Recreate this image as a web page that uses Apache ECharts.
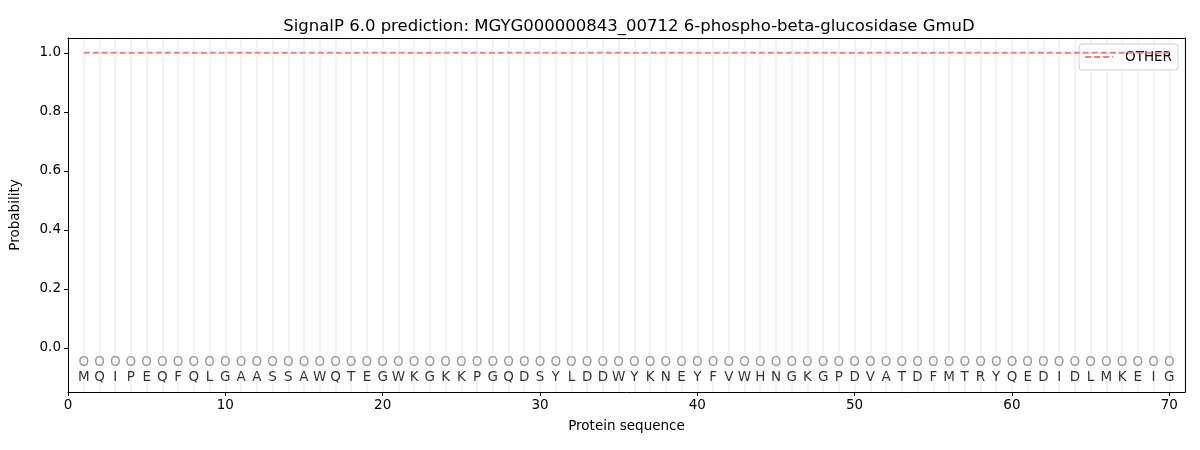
<!DOCTYPE html>
<html>
<head>
<meta charset="utf-8">
<script src="https://cdn.jsdelivr.net/npm/echarts@6/dist/echarts.min.js"></script>
<style>
  html, body { margin: 0; padding: 0; background: #fff; }
  #chart { width: 1200px; height: 450px; }
</style>
</head>
<body>
<div id="chart"></div>
<script>
// sequence and per-residue prediction
const residues = 'MQIPEQFQLGAASSAWQTEGWKGKKPGQDSYLDDWYKNEYFVWHNGKGPDVATDFMTRYQEDIDLMKEIG'.split('');
const predicted = residues.map(() => 'O');
const otherProb = [
  1, 1, 1, 1, 1, 1, 1, 1, 1, 1, 1, 1, 1, 1, 1, 1, 1, 1, 1, 1,
  1, 1, 1, 1, 1, 1, 1, 1, 1, 1, 1, 1, 1, 1, 1, 1, 1, 1, 1, 1,
  1, 1, 1, 1, 1, 1, 1, 1, 1, 1, 1, 1, 1, 1, 1, 1, 1, 1, 1, 1,
  1, 1, 1, 1, 1, 1, 1, 1, 1, 1
];
const yTicks = [0, 0.2, 0.4, 0.6, 0.8, 1.0];

const positions = residues.map((_, i) => i + 1);
const font = 'DejaVu Sans';

let chart = echarts.init(document.getElementById('chart'));

let options = {
  backgroundColor: '#ffffff',
  animation: false,
  textStyle: { fontFamily: font },
  title: {
    text: 'SignalP 6.0 prediction: MGYG000000843_00712 6-phospho-beta-glucosidase GmuD',
    left: 624, top: 13, textAlign: 'center',
    textStyle: { fontFamily: font, fontSize: 16.5, fontWeight: 'normal', color: '#000' },
  },
  grid: { left: 67, right: 15, top: 38, bottom: 58 },
  legend: {
    right: 22, top: 44,
    orient: 'vertical',
    itemWidth: 28, itemHeight: 10, itemGap: 6,
    padding: [6, 6, 6, 5],
    borderColor: '#d0d0d0', borderWidth: 1, borderRadius: 3,
    backgroundColor: 'rgba(255,255,255,0.8)',
    itemStyle: { color: 'transparent', borderWidth: 0, opacity: 0 },
    textStyle: { fontFamily: font, fontSize: 13.5, color: '#000', padding: [0, 0, 0, 7] },
    data: ['OTHER'],
  },
  xAxis: [
    {
      type: 'value', min: 0, max: 71, interval: 10,
      name: 'Protein sequence', nameLocation: 'middle', nameGap: 27,
      nameTextStyle: { fontFamily: font, fontSize: 13.5, color: '#000' },
      axisLine: { onZero: false, lineStyle: { color: '#000', width: 1 } },
      axisTick: { length: 4, lineStyle: { color: '#000' } },
      axisLabel: { showMaxLabel: false, color: '#000', fontSize: 13.5, fontFamily: font, margin: 6 },
      splitLine: { show: false },
    },
    {
      type: 'value', min: 0, max: 71, interval: 1, position: 'top',
      axisLine: { show: true, onZero: false, lineStyle: { color: '#000', width: 1 } },
      axisTick: { show: false }, axisLabel: { show: false },
      splitLine: { show: true, lineStyle: { color: '#f0f0f0', width: 1.5 } },
    },
  ],
  yAxis: [
    {
      type: 'value', min: -0.15, max: 1.05,
      name: 'Probability', nameLocation: 'middle', nameGap: 46,
      nameTextStyle: { fontFamily: font, fontSize: 13.5, color: '#000' },
      axisLine: { show: true, onZero: false, lineStyle: { color: '#000', width: 1 } },
      axisTick: { show: true, length: 4, customValues: yTicks, lineStyle: { color: '#000' } },
      axisLabel: {
        customValues: yTicks, color: '#000', fontSize: 13.5, fontFamily: font, margin: 7,
        formatter: v => v.toFixed(1),
      },
      splitLine: { show: false },
    },
    {
      type: 'value', min: -0.15, max: 1.05, position: 'right',
      axisLine: { show: true, onZero: false, lineStyle: { color: '#000', width: 1 } },
      axisTick: { show: false }, axisLabel: { show: false }, splitLine: { show: false },
    },
  ],
  series: [
    {
      name: 'OTHER', type: 'line',
      data: positions.map((p, i) => [p, otherProb[i]]),
      showSymbol: false, symbol: 'none',
      lineStyle: { color: '#f37f7f', width: 1.8, type: [6, 3] },
      itemStyle: { color: '#f37f7f' },
      z: 5,
    },
    {
      name: 'pred', type: 'scatter',
      data: positions.map(p => [p, -0.05]),
      symbol: 'circle', symbolSize: 1,
      itemStyle: { color: 'transparent' },
      label: {
        show: true, position: 'inside',
        formatter: p => predicted[p.dataIndex],
        color: '#808080', fontSize: 13.5, fontFamily: font,
      },
      silent: true,
    },
    {
      name: 'seq', type: 'scatter',
      data: positions.map(p => [p, -0.1]),
      symbol: 'circle', symbolSize: 1,
      itemStyle: { color: 'transparent' },
      label: {
        show: true, position: 'inside',
        formatter: p => residues[p.dataIndex],
        color: '#000', fontSize: 13.5, fontFamily: font,
      },
      silent: true,
    },
  ],
};

chart.setOption(options);
</script>
</body>
</html>
